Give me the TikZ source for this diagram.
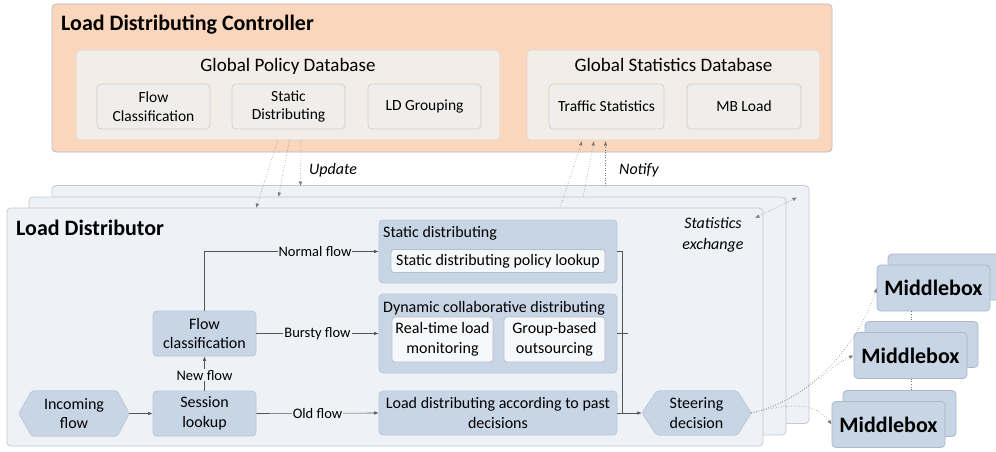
\documentclass[tikz,border=0pt]{standalone}
\usepackage{fontspec}
\setmainfont{Carlito}
\usetikzlibrary{arrows.meta,calc}
\definecolor{ctrlfill}{HTML}{FAD6BC}
\definecolor{ctrlline}{HTML}{BDBDBD}
\definecolor{dbfill}{HTML}{F3EDE8}
\definecolor{dbline}{HTML}{E0D8D1}
\definecolor{subfill}{HTML}{F0EEEC}
\definecolor{subline}{HTML}{D3CFCB}
\definecolor{ldfill}{HTML}{EEF1F6}
\definecolor{ldline}{HTML}{C6CBD3}
\definecolor{blkfill}{HTML}{C8D5E5}
\definecolor{blkline}{HTML}{BAC7D8}
\definecolor{whfill}{HTML}{F7F8FA}
\definecolor{whline}{HTML}{B4BFCD}
\definecolor{mbline}{HTML}{A9B8CB}
\definecolor{conncol}{HTML}{555555}
\tikzset{
  box/.style={rounded corners=4pt, line width=0.8pt, inner sep=0pt},
  ctrlbox/.style={box, draw=ctrlline, fill=ctrlfill},
  dbbox/.style={box, draw=dbline, fill=dbfill},
  subbox/.style={box, draw=subline, fill=subfill, align=center, font=\fontsize{15.5}{18.5}\selectfont},
  ldbox/.style={box, draw=ldline, fill=ldfill},
  blk/.style={box, draw=blkline, fill=blkfill, align=center, font=\fontsize{16}{19.5}\selectfont},
  blkshape/.style={draw=blkline, fill=blkfill, line width=0.8pt, rounded corners=2pt},
  blktext/.style={inner sep=0pt, align=center, font=\fontsize{16}{19.5}\selectfont},
  hexsize/.style={inner sep=0pt, minimum height=45pt},
  whbox/.style={box, rounded corners=3pt, draw=whline, fill=whfill, align=center, font=\fontsize{16}{19.5}\selectfont},
  mbbox/.style={box, draw=mbline, fill=blkfill, minimum width=113pt, minimum height=46pt, font=\bfseries\fontsize{22}{26}\selectfont},
  title/.style={inner sep=0pt, font=\bfseries\fontsize{22}{26}\selectfont},
  dbtitle/.style={inner sep=0pt, font=\fontsize{19}{22}\selectfont},
  grptitle/.style={inner sep=0pt, font=\fontsize{16}{19}\selectfont},
  cline/.style={draw=conncol, line width=0.6pt},
  arr/.style={cline, -{Latex[length=4.5pt,width=3.5pt]}},
  dots/.style={draw=conncol!80, dotted, line width=0.55pt},
  dotarr/.style={dots, -{Latex[length=4.5pt,width=3.5pt]}},
  lbl/.style={inner sep=1pt, fill=ldfill, font=\fontsize{14.5}{17}\selectfont},
  ital/.style={inner sep=0pt, align=center, font=\itshape\fontsize{16}{20.5}\selectfont}
}
\begin{document}
\begin{tikzpicture}[x=1pt,y=-1pt]
\useasboundingbox[fill=white] (0,0) rectangle (996,452);

% ---------- Controller ----------
\node[ctrlbox, minimum width=780pt, minimum height=148pt] (ctrl) at (442,78) {};
\node[title, anchor=base west] (ctrltitle) at (61,31) {Load Distributing Controller};

\node[dbbox, minimum width=424pt, minimum height=90pt] (pdb) at (288,95) {};
\node[dbtitle, anchor=base] (pdbt) at (288,71) {Global Policy Database};
\node[subbox, minimum width=113pt, minimum height=45pt] (fcl) at (153.5,106.5) {Flow\\Classification};
\node[subbox, minimum width=113pt, minimum height=45pt] (sdist) at (288.5,106.5) {Static\\Distributing};
\node[subbox, minimum width=113pt, minimum height=45pt] (ldg) at (424.5,106.5) {LD Grouping};

\node[dbbox, minimum width=293pt, minimum height=90pt] (sdb) at (673.5,95) {};
\node[dbtitle, anchor=base] (sdbt) at (673.5,71) {Global Statistics Database};
\node[subbox, minimum width=115pt, minimum height=45pt] (tstat) at (606.5,106.5) {Traffic Statistics};
\node[subbox, minimum width=114pt, minimum height=45pt] (mbl) at (744,106.5) {MB Load};

% ---------- Load distributor stack ----------
\node[ldbox, minimum width=757pt, minimum height=238pt] (ld3) at (430.5,304.5) {};
\node[ldbox, minimum width=757pt, minimum height=238pt] (ld2) at (407.5,316) {};
\node[ldbox, minimum width=756pt, minimum height=238pt] (ld1) at (385,327) {};
\node[title, anchor=base west] (ldtitle) at (16,235) {Load Distributor};

% blocks
\node[hexsize, minimum width=110pt] (inc) at (74,413.5) {};
\path[blkshape] (inc.west) -- ([xshift=13pt]inc.north west) -- ([xshift=-12pt]inc.north east) -- (inc.east) -- ([xshift=-12pt]inc.south east) -- ([xshift=13pt]inc.south west) -- cycle;
\node[blktext] (inctxt) at (inc) {Incoming\\flow};

\node[blk, minimum width=103pt, minimum height=45pt] (sess) at (204.5,413.5) {Session\\lookup};
\node[blk, minimum width=103pt, minimum height=45pt] (fc) at (204.5,333.5) {Flow\\classification};

\node[blk, minimum width=238pt, minimum height=63pt] (stat) at (498,251.5) {};
\node[grptitle, anchor=base west] (statt) at (383,237) {Static distributing};
\node[whbox, minimum width=214pt, minimum height=23pt] (statlk) at (498,261) {Static distributing policy lookup};

\node[blk, minimum width=238pt, minimum height=79pt] (dyn) at (498,333.5) {};
\node[grptitle, anchor=base west] (dynt) at (383,312) {Dynamic collaborative distributing};
\node[whbox, minimum width=101pt, minimum height=45pt] (rtl) at (442.5,339.5) {Real-time load\\monitoring};
\node[whbox, minimum width=101pt, minimum height=45pt] (gbo) at (554.5,339.5) {Group-based\\outsourcing};

\node[blk, minimum width=238pt, minimum height=44pt] (past) at (498,413) {Load distributing according to past\\decisions};

\node[hexsize, minimum width=109pt, minimum height=44pt] (steer) at (696.5,413) {};
\path[blkshape] (steer.west) -- ([xshift=15pt]steer.north west) -- ([xshift=-14pt]steer.north east) -- (steer.east) -- ([xshift=-14pt]steer.south east) -- ([xshift=15pt]steer.south west) -- cycle;
\node[blktext] (steertxt) at (steer) {Steering\\decision};

% connectors
\draw[arr] (inc.east) -- (sess.west);
\draw[arr] (sess.north) -- (fc.south) node[lbl, pos=0.45] (lnew) {New flow};
\draw[arr] (fc.north) |- (stat.west);
\node[lbl] (lnorm) at (315,251.5) {Normal flow};
\draw[arr] (fc.east) -- (dyn.west) node[lbl, pos=0.5] (lburst) {Bursty flow};
\draw[arr] (sess.east) -- (past.west) node[lbl, pos=0.5] (lold) {Old flow};
\coordinate (jn) at (622.5,413);
\draw[cline] (stat.east) -| (jn);
\draw[cline] (dyn.east) -- ++(11,0);
\draw[arr] (past.east) -- (steer.west);

% update / notify
\coordinate (u1s) at (278,140); \coordinate (u1e) at (256,208);
\coordinate (u2s) at (289.5,140); \coordinate (u2e) at (278.5,197);
\coordinate (u3s) at (301,140); \coordinate (u3e) at (300.5,186);
\draw[dotarr] (u1s) -- (u1e);
\draw[dotarr] (u2s) -- (u2e);
\draw[dotarr] (u3s) -- (u3e);
\node[ital] (upd) at (333,170) {Update};

\coordinate (n1s) at (560,208); \coordinate (n1e) at (582,141);
\coordinate (n2s) at (583,197); \coordinate (n2e) at (594,141);
\coordinate (n3s) at (605.5,186); \coordinate (n3e) at (605.5,141);
\draw[dotarr] (n1s) -- (n1e);
\draw[dotarr] (n2s) -- (n2e);
\draw[dotarr] (n3s) -- (n3e);
\node[ital] (ntf) at (639,170) {Notify};

\coordinate (se1) at (755,218); \coordinate (se2) at (797,197.5);
\draw[dots, {Latex[length=4.5pt,width=3.5pt]}-{Latex[length=4.5pt,width=3.5pt]}] (se1) -- (se2);
\node[ital] (sex) at (713,235) {Statistics\\exchange};

% ---------- Middleboxes ----------
\node[mbbox] (mb1b) at (944.5,277) {};
\node[mbbox] (mb1) at (933.5,288) {Middlebox};
\node[mbbox] (mb2b) at (921.5,344.5) {};
\node[mbbox] (mb2) at (910.5,355.5) {Middlebox};
\node[mbbox] (mb3b) at (899.5,413.5) {};
\node[mbbox] (mb3) at (888.5,424.5) {Middlebox};
\draw[dots] (mb1.south -| 911,0) -- (mb2b.north -| 911,0);
\draw[dots] (mb2.south -| 911,0) -- (mb3b.north -| 911,0);

\draw[dotarr] (steer.east) .. controls (815,398) and (860,340) .. (mb1.west);
\draw[dotarr] (steer.east) .. controls (800,403) and (830,365) .. (mb2.west);
\draw[dotarr] (steer.east) .. controls (790,403) and (815,402) .. (mb3.west);
\end{tikzpicture}
\end{document}
